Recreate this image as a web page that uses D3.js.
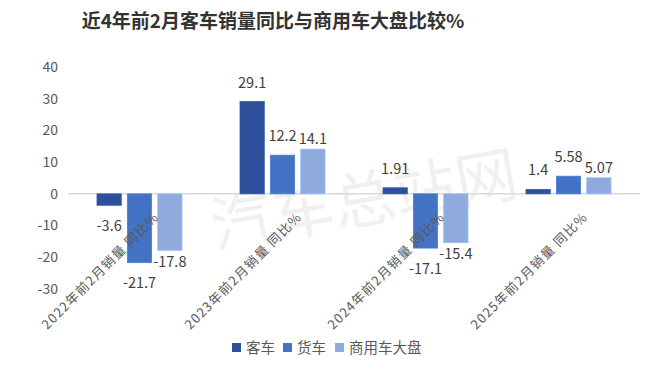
<!DOCTYPE html>
<html><head><meta charset="utf-8">
<script src="https://cdn.jsdelivr.net/npm/d3@7"></script>
<style>body{margin:0;background:#fff}svg{display:block}</style>
</head><body>
<svg id="c" width="660" height="374"></svg>
<script>
const title = "近4年前2月客车销量同比与商用车大盘比较%";
const categories = ["2022年前2月销量 同比%","2023年前2月销量 同比%","2024年前2月销量 同比%","2025年前2月销量 同比%"];
const seriesNames = ["客车","货车","商用车大盘"];
const bus = [-3.6, 29.1, 1.91, 1.4];
const truck = [-21.7, 12.2, -17.1, 5.58];
const market = [-17.8, 14.1, -15.4, 5.07];
const yTicks = [40,30,20,10,0,-10,-20,-30];
const values = [bus, truck, market];
const colors = ["#2E509C","#4472C4","#8FAADC"];
const labelGap = [14, 14, 5];

const svg = d3.select("#c");
const font = "'Noto Sans CJK SC','Noto Sans',sans-serif";

// watermark
svg.append("text").attr("x",365).attr("y",222).attr("text-anchor","middle")
  .attr("transform","rotate(-10,365,205)")
  .attr("font-family",font).attr("font-size",62).attr("fill","#000").attr("opacity",0.055)
  .text("汽车总站网");

svg.append("text").attr("x",273).attr("y",28).attr("text-anchor","middle")
  .attr("font-family",font).attr("font-weight","bold").attr("font-size",19).attr("fill","#333")
  .text(title);

const y = d3.scaleLinear().domain([-30,40]).range([289,67]);
const x = d3.scaleBand().domain(categories).range([68,640]);
const cw = x.bandwidth();
const x1 = d3.scaleBand().domain(d3.range(3)).range([(cw-85)/2,(cw+85)/2]).paddingInner(0.2);

// y tick labels
svg.append("g").selectAll("text").data(yTicks).join("text")
  .attr("x",58).attr("y",d=>y(d)).attr("dy","0.35em").attr("text-anchor","end")
  .attr("font-family",font).attr("font-size",14).attr("fill","#595959").text(d=>d);

// zero line
svg.append("line").attr("x1",68).attr("x2",640).attr("y1",y(0)).attr("y2",y(0))
  .attr("stroke","#d9d9d9").attr("stroke-width",1.5);

// bars
const g = svg.append("g");
categories.forEach((c,i)=>{
  values.forEach((arr,s)=>{
    const v = arr[i];
    const bx = x(c)+x1(s);
    g.append("rect").attr("x",bx).attr("width",x1.bandwidth())
      .attr("y",Math.min(y(v),y(0))).attr("height",Math.abs(y(v)-y(0)))
      .attr("fill",colors[s]).attr("stroke",d3.color(colors[s]).brighter(0.3)).attr("stroke-width",0.8);
  });
});

// category labels
svg.append("g").selectAll("text").data(categories).join("text")
  .attr("transform",d=>`translate(${x(d)+cw/2+20},218) rotate(-45)`)
  .attr("text-anchor","end").attr("font-family",font).attr("font-size",13)
  .attr("letter-spacing",1.2).attr("fill","#595959").text(d=>d);

// data labels
categories.forEach((c,i)=>{
  values.forEach((arr,s)=>{
    const v = arr[i];
    const cx = x(c)+x1(s)+x1.bandwidth()/2;
    const ty = v>=0 ? y(v)-labelGap[s] : y(v)+labelGap[s];
    svg.append("text").attr("x",cx).attr("y",ty)
      .attr("dy", v>=0 ? "0" : "0.8em")
      .attr("text-anchor","middle").attr("font-family",font).attr("font-size",14.5)
      .attr("fill","#404040").text(v);
  });
});

// legend
const lx = [232,283,335];
const lg = svg.append("g");
seriesNames.forEach((n,s)=>{
  lg.append("rect").attr("x",lx[s]).attr("y",343).attr("width",9).attr("height",9).attr("fill",colors[s]);
  lg.append("text").attr("x",lx[s]+14).attr("y",352.5).attr("font-family",font).attr("font-size",14.5)
    .attr("fill","#595959").text(n);
});
</script>
</body></html>
